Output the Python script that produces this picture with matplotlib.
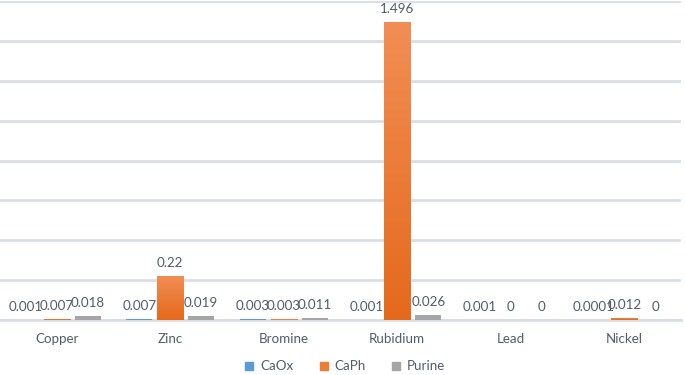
import matplotlib
matplotlib.use("Agg")
import matplotlib.pyplot as plt
import numpy as np
from matplotlib.colors import LinearSegmentedColormap

categories = ["Copper", "Zinc", "Bromine", "Rubidium", "Lead", "Nickel"]
series_names = ["CaOx", "CaPh", "Purine"]
caox = [0.001, 0.007, 0.003, 0.001, 0.001, 0.0001]
caph = [0.007, 0.22, 0.003, 1.496, 0, 0.012]
purine = [0.018, 0.019, 0.011, 0.026, 0, 0]
label_text = [
    ["0.001", "0.007", "0.003", "0.001", "0.001", "0.0001"],
    ["0.007", "0.22", "0.003", "1.496", "0", "0.012"],
    ["0.018", "0.019", "0.011", "0.026", "0", "0"],
]

plt.rcParams['font.family'] = ['Lato', 'DejaVu Sans']
text_color = '#525C6B'
grid_color = '#D9DEE6'
colors = ['#5B9BD5', '#ED7D31', '#A5A5A5']
fs = 9.6

fig = plt.figure(figsize=(6.85, 3.75), dpi=100)
ax = fig.add_axes([0.0, 1 - 320 / 375, 681 / 685, 319 / 375])

x = np.arange(len(categories))
width = 0.23
offset = 0.273
all_series = [caox, caph, purine]
containers = []
for i, vals in enumerate(all_series):
    bars = ax.bar(x + (i - 1) * offset, vals, width=width, color=colors[i],
                  label=series_names[i], linewidth=0, zorder=3)
    containers.append(bars)

# gradient on the orange bars
cmap = LinearSegmentedColormap.from_list('og', ['#E5691B', '#F28E55'])
grad = np.linspace(0, 1, 256).reshape(-1, 1)
for b in containers[1]:
    h = b.get_height()
    if h <= 0:
        continue
    xl = b.get_x()
    im = ax.imshow(grad, cmap=cmap, aspect='auto', origin='lower',
                   extent=[xl, xl + b.get_width(), 0, h], zorder=3.5)
    im.set_clip_path(b)

for i, bars in enumerate(containers):
    for j, b in enumerate(bars):
        ax.annotate(label_text[i][j], (b.get_x() + b.get_width() / 2, b.get_height()),
                    xytext=(0, 5), textcoords='offset points', ha='center', va='bottom',
                    fontsize=fs, color=text_color, zorder=5)

ax.set_xlim(-0.5, len(categories) - 0.5)
ax.set_ylim(0, 1.6)
ax.set_yticks(np.arange(0, 1.61, 0.2))
ax.yaxis.grid(True, color=grid_color, linewidth=2, zorder=0)
ax.set_axisbelow(True)
ax.tick_params(axis='y', left=False, labelleft=False)
ax.tick_params(axis='x', length=0, pad=9.5, labelsize=fs, labelcolor=text_color)
ax.set_xticks(x)
ax.set_xticklabels(categories)
for s in ['top', 'right', 'left']:
    ax.spines[s].set_visible(False)
ax.spines['bottom'].set_color(grid_color)
ax.spines['bottom'].set_linewidth(2)
ax.set_facecolor('none')

handles = [plt.Rectangle((0, 0), 1, 1, color=c) for c in colors]
fig.legend(handles, series_names, loc='center', bbox_to_anchor=(0.504, 1 - 366.5 / 375),
           ncol=3, frameon=False, fontsize=fs, labelcolor=text_color,
           handlelength=0.6, handleheight=0.6, handletextpad=0.5, columnspacing=2.0)

fig.savefig('out.png', dpi=100, facecolor='white')
